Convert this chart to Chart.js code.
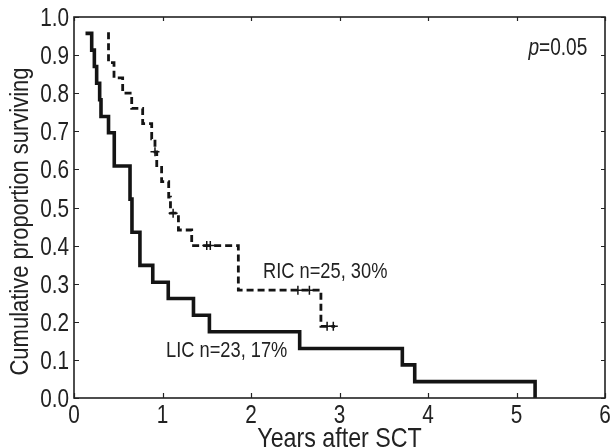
<!DOCTYPE html>
<html>
<head>
<meta charset="utf-8">
<script src="https://cdn.jsdelivr.net/npm/chart.js@4.4.0/dist/chart.umd.min.js"></script>
<style>
  html, body { margin: 0; padding: 0; background: #ffffff; }
  #wrap { width: 611px; height: 448px; }
</style>
</head>
<body>
<div id="wrap"><canvas id="c" width="611" height="448"></canvas></div>
<script>
// ---- data ----
const licTimes = [0.13, 0.20, 0.23, 0.256, 0.29, 0.305, 0.39, 0.455, 0.633, 0.655, 0.745, 0.89, 1.065, 1.35, 1.53, 2.55, 3.71, 3.85, 5.21];
const licSurv  = [0.957, 0.913, 0.870, 0.826, 0.783, 0.739, 0.696, 0.609, 0.522, 0.435, 0.348, 0.304, 0.261, 0.217, 0.174, 0.130, 0.087, 0.043, 0.0];

const ricTimes = [0.39, 0.39, 0.452, 0.55, 0.652, 0.776, 0.878, 0.915, 0.935, 0.99, 1.07, 1.09, 1.18, 1.33, 1.857, 2.79, 2.95];
const ricSurv  = [0.96, 0.88, 0.84, 0.80, 0.76, 0.72, 0.68, 0.646, 0.605, 0.568, 0.527, 0.485, 0.441, 0.40, 0.283, 0.188, 0.188];

const ricCensorTimes = [0.915, 1.12, 1.50, 1.54, 2.53, 2.66, 2.86, 2.93];
const ricCensorSurv  = [0.646, 0.485, 0.40, 0.40, 0.283, 0.283, 0.188, 0.188];

const xTickValues = [0, 1, 2, 3, 4, 5, 6];
const yTickValues = [0, 0.1, 0.2, 0.3, 0.4, 0.5, 0.6, 0.7, 0.8, 0.9, 1.0];
const xTickLabels = ['0', '1', '2', '3', '4', '5', '6'];
const yTickLabels = ['0.0', '0.1', '0.2', '0.3', '0.4', '0.5', '0.6', '0.7', '0.8', '0.9', '1.0'];

const ricLabel = 'RIC n=25, 30%';
const licLabel = 'LIC n=23, 17%';
const pLabelItalic = 'p';
const pLabelRest = '=0.05';
const xTitle = 'Years after SCT';
const yTitle = 'Cumulative proportion surviving';

// ---- chart ----
const FONT = '"Liberation Sans", Arial, Helvetica, sans-serif';
const INK = '#141414';
const TXT = '#222222';
const NARROW = 0.83;

const toXY = (ts, vs) => ts.map((t, i) => ({ x: t, y: vs[i] }));

function drawText(ctx, text, x, y, size, align, sx, opts = {}) {
  ctx.save();
  ctx.translate(x, y);
  if (opts.rotate) ctx.rotate(opts.rotate);
  ctx.scale(sx, 1);
  ctx.font = (opts.italic ? 'italic ' : '') + size + 'px ' + FONT;
  ctx.textAlign = align;
  ctx.textBaseline = opts.baseline || 'alphabetic';
  ctx.fillStyle = TXT;
  ctx.fillText(text, 0, 0);
  ctx.restore();
}

const framePlugin = {
  id: 'frame',
  afterDraw(chart) {
    const { ctx, chartArea: { left, right, top, bottom }, scales: { x, y } } = chart;
    ctx.save();
    ctx.strokeStyle = '#222';
    ctx.lineWidth = 1.6;
    ctx.strokeRect(left, top, right - left, bottom - top);
    ctx.lineWidth = 1.2;
    ctx.beginPath();
    xTickValues.forEach(v => {
      const px = Math.round(x.getPixelForValue(v)) + 0.5;
      ctx.moveTo(px, bottom); ctx.lineTo(px, bottom - 5);
      ctx.moveTo(px, top); ctx.lineTo(px, top + 4);
    });
    yTickValues.forEach(v => {
      const py = Math.round(y.getPixelForValue(v)) + 0.5;
      ctx.moveTo(left, py); ctx.lineTo(left + 5, py);
      ctx.moveTo(right, py); ctx.lineTo(right - 4, py);
    });
    ctx.stroke();
    ctx.restore();

    // tick labels
    xTickValues.forEach((v, i) => drawText(ctx, xTickLabels[i], x.getPixelForValue(v), bottom + 25, 25, 'center', NARROW));
    yTickValues.forEach((v, i) => drawText(ctx, yTickLabels[i], left - 5, y.getPixelForValue(v) + 9, 25, 'right', NARROW));

    // axis titles
    drawText(ctx, xTitle, (left + right) / 2, 447, 28, 'center', NARROW);
    drawText(ctx, yTitle, 28, (top + bottom) / 2 + 14, 26.5, 'center', NARROW, { rotate: -Math.PI / 2 });

    // annotations
    drawText(ctx, ricLabel, x.getPixelForValue(2.136), y.getPixelForValue(0.315), 22, 'left', NARROW);
    drawText(ctx, licLabel, x.getPixelForValue(1.04), y.getPixelForValue(0.108), 22, 'left', NARROW);

    const rx = x.getPixelForValue(5.8), by = y.getPixelForValue(0.90);
    ctx.save();
    ctx.font = '23px ' + FONT;
    const wRest = ctx.measureText(pLabelRest).width * NARROW;
    ctx.font = 'italic 23px ' + FONT;
    const wP = ctx.measureText(pLabelItalic).width * NARROW;
    ctx.restore();
    drawText(ctx, pLabelRest, rx - wRest, by, 23, 'left', NARROW);
    drawText(ctx, pLabelItalic, rx - wRest - wP, by, 23, 'left', NARROW, { italic: true });
  }
};

new Chart(document.getElementById('c'), {
  type: 'scatter',
  data: {
    datasets: [
      {
        label: 'LIC',
        type: 'line',
        data: toXY(licTimes, licSurv),
        stepped: 'before',
        borderColor: INK,
        borderWidth: 3.6,
        pointRadius: 0,
        fill: false,
        tension: 0
      },
      {
        label: 'RIC',
        type: 'line',
        data: toXY(ricTimes, ricSurv),
        stepped: 'before',
        borderColor: INK,
        borderWidth: 2.8,
        borderDash: [7, 4],
        pointRadius: 0,
        fill: false,
        tension: 0
      },
      {
        label: 'RIC censored',
        data: toXY(ricCensorTimes, ricCensorSurv),
        pointStyle: 'cross',
        pointRadius: 4.5,
        borderColor: INK,
        borderWidth: 1.5,
        backgroundColor: INK
      }
    ]
  },
  options: {
    responsive: false,
    animation: false,
    devicePixelRatio: 1,
    layout: { padding: { top: 17, right: 6, left: 0, bottom: 0 } },
    plugins: { legend: { display: false }, tooltip: { enabled: false } },
    scales: {
      x: {
        type: 'linear',
        min: 0, max: 6,
        afterFit(s) { s.height = 50; s.paddingRight = 0; s.paddingLeft = 0; },
        afterBuildTicks(s) { s.ticks = xTickValues.map(v => ({ value: v })); },
        ticks: { display: false },
        grid: { display: false, drawTicks: false },
        border: { display: false }
      },
      y: {
        type: 'linear',
        min: 0, max: 1,
        afterFit(s) { s.width = 74; s.paddingTop = 0; s.paddingBottom = 0; },
        afterBuildTicks(s) { s.ticks = yTickValues.map(v => ({ value: v })); },
        ticks: { display: false },
        grid: { display: false, drawTicks: false },
        border: { display: false }
      }
    }
  },
  plugins: [framePlugin]
});
</script>
</body>
</html>
